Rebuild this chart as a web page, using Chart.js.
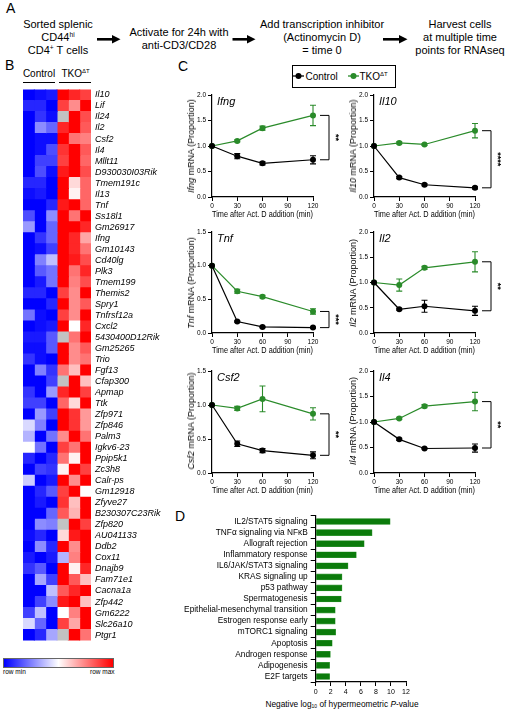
<!DOCTYPE html>
<html>
<head>
<meta charset="utf-8">
<script src="https://cdn.jsdelivr.net/npm/chart.js@4.4.1/dist/chart.umd.min.js"></script>
<style>
  body { margin: 0; background: #fff; }
  #page { position: relative; width: 508px; height: 712px; overflow: hidden; background: #fff;
          font-family: 'Liberation Sans', Arial, sans-serif; color: #000; }
  .t { position: absolute; white-space: nowrap; }
  .letter { position: absolute; font-size: 14px; line-height: 14px; }
  .step { position: absolute; font-size: 11px; line-height: 13px; text-align: center; white-space: nowrap; transform: translateX(-50%); }
  .ytitle { position: absolute; font-size: 9px; line-height: 10px; white-space: nowrap; transform: translate(-50%, -50%) rotate(-90deg); }
  canvas { position: absolute; }
  sup { font-size: 0.6em; vertical-align: 0.55em; line-height: 0; }
  sub { font-size: 0.6em; vertical-align: -0.3em; line-height: 0; }
</style>
</head>
<body>
<div id="page">
  <!-- panel A -->
  <div class="letter" style="left:6px;top:1px">A</div>
  <div class="step" style="left:58px;top:17.5px">Sorted splenic<br>CD44<sup>hi</sup><br>CD4<sup>+</sup> T cells</div>
  <div class="step" style="left:179px;top:25.5px">Activate for 24h with<br>anti-CD3/CD28</div>
  <div class="step" style="left:322px;top:17.5px">Add transcription inhibitor<br>(Actinomycin D)<br>= time 0</div>
  <div class="step" style="left:460px;top:17.5px">Harvest cells<br>at multiple time<br>points for RNAseq</div>
  <svg style="position:absolute;left:0;top:0" width="508" height="60">
    <g fill="#000" stroke="#000">
      <line x1="97" y1="39.3" x2="113" y2="39.3" stroke-width="2.6"/>
      <polygon points="112,35 120.5,39.3 112,43.6" stroke="none"/>
      <line x1="232.5" y1="39.3" x2="248" y2="39.3" stroke-width="2.6"/>
      <polygon points="247,35 255.5,39.3 247,43.6" stroke="none"/>
      <line x1="383" y1="39.3" x2="400" y2="39.3" stroke-width="2.6"/>
      <polygon points="399,35 407.5,39.3 399,43.6" stroke="none"/>
    </g>
  </svg>

  <!-- panel B -->
  <div class="letter" style="left:5px;top:58px">B</div>
  <div class="t" style="left:39px;top:73px;font-size:10px;transform:translate(-50%,-50%)">Control</div>
  <div class="t" style="left:75.5px;top:73px;font-size:10px;transform:translate(-50%,-50%)">TKO<sup>ΔT</sup></div>
  <div class="t" style="left:23px;top:82px;width:32px;height:1px;background:#000"></div>
  <div class="t" style="left:59px;top:82px;width:32px;height:1px;background:#000"></div>
  <div class="t" style="left:2.7px;top:658px;width:109px;height:8px;border:1px solid #666;background:linear-gradient(to right,#0000ff,#ffffff,#ff0000)"></div>
  <div class="t" style="left:3px;top:668px;font-size:6.5px">row min</div>
  <div class="t" style="left:90px;top:668px;font-size:6.5px">row max</div>

  <!-- panel C -->
  <div class="letter" style="left:178px;top:59px">C</div>
  <div class="t" style="left:292px;top:65px;width:102px;height:21px;border:1px solid #000"></div>
  <svg style="position:absolute;left:292px;top:71px" width="70" height="10">
    <line x1="1" y1="5" x2="12" y2="5" stroke="#000" stroke-width="1.3"/>
    <circle cx="6.5" cy="5" r="3" fill="#000"/>
    <line x1="56" y1="5" x2="67" y2="5" stroke="#2a8b2a" stroke-width="1.3"/>
    <circle cx="61.5" cy="5" r="3" fill="#2a8b2a"/>
  </svg>
  <div class="t" style="left:305.5px;top:76px;font-size:10px;transform:translateY(-50%)">Control</div>
  <div class="t" style="left:359.5px;top:76px;font-size:10px;transform:translateY(-50%)">TKO<sup>ΔT</sup></div>

  <!-- panel D -->
  <div class="letter" style="left:175px;top:508.5px">D</div>
  <div class="t" style="left:342px;top:704px;font-size:8.3px;transform:translate(-50%,-50%)">Negative log<sub>10</sub> of hypermeometric <i>P</i>-value</div>
</div>

<script>
// ---- Heatmap (row-scaled, -1 = row min, 1 = row max, null = missing) ----
var genes = ['Il10', 'Lif', 'Il24', 'Il2', 'Csf2', 'Il4', 'Mllt11', 'D930030I03Rik', 'Tmem191c', 'Il13',
  'Tnf', 'Ss18l1', 'Gm26917', 'Ifng', 'Gm10143', 'Cd40lg', 'Plk3', 'Tmem199', 'Themis2', 'Spry1',
  'Tnfrsf12a', 'Cxcl2', '5430400D12Rik', 'Gm25265', 'Trio', 'Fgf13', 'Cfap300', 'Apmap', 'Ttk', 'Zfp971',
  'Zfp846', 'Palm3', 'Igkv6-23', 'Ppip5k1', 'Zc3h8', 'Calr-ps', 'Gm12918', 'Zfyve27', 'B230307C23Rik', 'Zfp820',
  'AU041133', 'Ddb2', 'Cox11', 'Dnajb9', 'Fam71e1', 'Cacna1a', 'Zfp442', 'Gm6222', 'Slc26a10', 'Ptgr1'];

var ctrl1 = [-1, -0.85, -1, -1, -1, -1, -1, -1, -0.85, -0.95,
  -1, -0.7, -0.4, -1, -1, -1, -1, -1, -0.85, -1,
  -0.55, -1, -0.9, -0.95, -0.8, -1, -1, -0.8, -0.75, -1,
  -0.15, -0.3, 0, -0.85, -1, -0.2, -1, -1, -1, -1,
  -0.95, -1, -0.9, -0.8, -1, -1, -1, -0.75, -0.15, -1];
var ctrl2 = [-0.95, -0.85, -0.8, -0.45, -0.95, -0.95, -0.75, -0.7, -0.85, -0.9,
  -1, -1, -1, -0.8, -0.95, -0.5, -0.65, -0.9, -0.85, -1,
  -0.95, -0.95, -0.9, -0.95, -0.95, -0.5, -1, -1, -0.75, -0.4,
  -0.5, -1, -0.55, -1, -0.75, -1, -0.85, -0.9, -1, -0.45,
  -0.85, -0.45, -1, -0.65, -0.35, -1, -0.75, -0.25, -0.6, -0.85];
var ctrl3 = [-0.9, -1, -0.95, -0.6, -0.95, -0.7, -0.75, -0.95, -1, -1,
  -0.85, -0.45, -0.6, -0.6, -0.75, -0.25, -0.55, -0.55, -1, -0.85,
  -1, -0.9, -0.65, -0.65, -1, -0.8, -0.75, -0.4, -1, -0.75,
  -1, -0.55, -1, -0.85, -0.8, -0.9, -0.65, -1, -0.6, -0.5,
  -1, -0.85, -0.9, -1, -0.75, -0.25, -0.45, -1, -1, -0.35];
var tko1 = [1, 0.75, null, 0.85, 1, 0.8, 0.75, 0.9, 1, 1,
  0.9, 1, 1, 1, 1, 1, 1, 1, 0.75, 1,
  0.75, 1, null, 1, 1, 0.55, null, 0.85, 0.6, 1,
  1, 0.45, 0.75, 0.55, 0.05, 1, 0.75, 0.8, 0.65, null,
  0.15, 1, -0.3, 1, 1, 0.65, 0.9, 0, 0.75, null];
var tko2 = [0.85, 0.45, 1, 1, 0.55, 1, 1, 1, 0.15, 0.05,
  1, 0.55, 1, 0.85, 0.85, 0.9, 0.55, 0.5, 0.45, 0.45,
  0.45, 0, 0.55, 0.45, 0.45, 0.25, 1, 1, 0.15, 0.8,
  0.8, 1, 0.55, 0.05, 1, 0.45, 1, 0.25, 0.3, 1,
  0.9, 0.45, 0.5, 0.05, 0.65, 0.85, 1, 0.5, 0.35, 1];
var tko3 = [0.75, 1, 0.7, 0.65, 0.5, 0.65, 0.6, 0.7, 0.6, 0.6,
  0.6, 1, 0.85, 0.35, 0.55, 0.7, 0.85, 0.7, 1, 0.65,
  1, 0.85, 1, 0.65, 0.55, 1, 0.25, 0.75, 1, 0.4,
  0.4, 0.55, 1, 1, 0.75, 1, 0, 1, 1, 0.75,
  1, 1, 1, 0.85, 0.25, 1, 0.25, 1, 1, 0.55];

// ---- mRNA decay time courses (proportion of time 0) ----
var timePoints = [0, 30, 60, 120];

var ifngCtrl = [1.0, 0.80, 0.66, 0.73];
var ifngCtrlErr = [0, 0.05, 0.03, 0.08];
var ifngTko = [1.0, 1.10, 1.35, 1.60];
var ifngTkoErr = [0, 0.02, 0.04, 0.20];

var il10Ctrl = [1.0, 0.38, 0.24, 0.18];
var il10CtrlErr = [0, 0.02, 0.02, 0.02];
var il10Tko = [1.0, 1.06, 1.03, 1.30];
var il10TkoErr = [0, 0.02, 0.02, 0.14];

var tnfCtrl = [1.0, 0.17, 0.09, 0.08];
var tnfCtrlErr = [0, 0.01, 0.01, 0.01];
var tnfTko = [1.0, 0.62, 0.54, 0.32];
var tnfTkoErr = [0, 0.03, 0.02, 0.04];

var il2Ctrl = [1.0, 0.47, 0.53, 0.44];
var il2CtrlErr = [0, 0.02, 0.12, 0.09];
var il2Tko = [1.0, 0.95, 1.29, 1.41];
var il2TkoErr = [0, 0.12, 0.03, 0.20];

var csf2Ctrl = [1.0, 0.43, 0.33, 0.26];
var csf2CtrlErr = [0, 0.04, 0.03, 0.05];
var csf2Tko = [1.0, 0.95, 1.09, 0.87];
var csf2TkoErr = [0, 0.03, 0.19, 0.09];

var il4Ctrl = [1.0, 0.66, 0.48, 0.49];
var il4CtrlErr = [0, 0.02, 0.01, 0.08];
var il4Tko = [1.0, 1.07, 1.31, 1.40];
var il4TkoErr = [0, 0.02, 0.03, 0.18];

// ---- Hallmark enrichment ----
var pathways = ['IL2/STAT5 signaling', 'TNFα signaling via NFκB', 'Allograft rejection', 'Inflammatory response',
  'IL6/JAK/STAT3 signaling', 'KRAS signaling up', 'p53 pathway', 'Spermatogenesis',
  'Epithelial-mesenchymal transition', 'Estrogen response early', 'mTORC1 signaling', 'Apoptosis',
  'Androgen response', 'Adipogenesis', 'E2F targets'];
var negLogP = [9.9, 7.5, 6.45, 5.4, 4.3, 3.5, 3.5, 3.4, 2.6, 2.6, 2.65, 2.2, 1.95, 1.85, 1.85];

var green = '#2a8b2a';
var FONT = "'Liberation Sans', Arial, sans-serif";
Chart.defaults.font.family = FONT;
Chart.defaults.color = '#000';
Chart.defaults.animation = false;

var page = document.getElementById('page');

function addCanvas(left, top, w, h) {
  var c = document.createElement('canvas');
  c.width = w;
  c.height = h;
  c.style.left = left + 'px';
  c.style.top = top + 'px';
  c.style.width = w + 'px';
  c.style.height = h + 'px';
  page.appendChild(c);
  return c;
}

function heatColor(v) {
  if (v === null) return '#c2c2c2';
  var k;
  if (v < 0) {
    k = Math.round(255 * (1 + v));
    return 'rgb(' + k + ',' + k + ',255)';
  }
  k = Math.round(255 * (1 - v));
  return 'rgb(255,' + k + ',' + k + ')';
}

// heatmap as floating bars, one dataset per sample column
var heatCols = [ctrl1, ctrl2, ctrl3, tko1, tko2, tko3];
new Chart(addCanvas(0, 80, 170, 570), {
  type: 'bar',
  data: {
    labels: genes,
    datasets: heatCols.map(function (col, j) {
      return {
        data: col.map(function () { return [j, j + 1]; }),
        backgroundColor: col.map(heatColor),
        borderWidth: 0,
        grouped: false,
        barPercentage: 1,
        categoryPercentage: 1,
        inflateAmount: 0.5
      };
    })
  },
  options: {
    indexAxis: 'y',
    responsive: false,
    layout: { padding: { left: 23, top: 6, bottom: 6, right: 0 } },
    plugins: { legend: { display: false }, tooltip: { enabled: false } },
    scales: {
      x: { display: false, min: 0, max: 6 },
      y: {
        position: 'right',
        afterFit: function (s) { s.width = 79; },
        grid: { display: false, drawTicks: false },
        border: { display: false },
        ticks: { autoSkip: false, padding: 4, color: '#000', font: { size: 9, style: 'italic' } }
      }
    }
  }
});

function drawErrors(chart, dsIndex, errs, color) {
  var ctx = chart.ctx, ys = chart.scales.y;
  var meta = chart.getDatasetMeta(dsIndex);
  var vals = chart.data.datasets[dsIndex].data;
  ctx.strokeStyle = color;
  ctx.lineWidth = 1.1;
  meta.data.forEach(function (pt, i) {
    if (!errs[i]) return;
    var y1 = ys.getPixelForValue(vals[i].y + errs[i]);
    var y2 = ys.getPixelForValue(vals[i].y - errs[i]);
    ctx.beginPath();
    ctx.moveTo(pt.x, y1); ctx.lineTo(pt.x, y2);
    ctx.moveTo(pt.x - 3, y1); ctx.lineTo(pt.x + 3, y1);
    ctx.moveTo(pt.x - 3, y2); ctx.lineTo(pt.x + 3, y2);
    ctx.stroke();
  });
}

function annotPlugin(p) {
  return {
    id: 'annot',
    afterDatasetsDraw: function (chart) {
      var ctx = chart.ctx, xs = chart.scales.x, ys = chart.scales.y, area = chart.chartArea;
      ctx.save();
      drawErrors(chart, 0, p.ctrlErr, '#000');
      drawErrors(chart, 1, p.tkoErr, green);
      var last = timePoints.length - 1;
      var xr = xs.getPixelForValue(timePoints[last]);
      var yTop = ys.getPixelForValue(p.tko[last]);
      var yBot = ys.getPixelForValue(p.ctrl[last]);
      ctx.strokeStyle = '#000';
      ctx.lineWidth = 1;
      ctx.beginPath();
      ctx.moveTo(xr + 7, yTop); ctx.lineTo(xr + 16, yTop);
      ctx.lineTo(xr + 16, yBot); ctx.lineTo(xr + 7, yBot);
      ctx.stroke();
      ctx.translate(xr + 22, (yTop + yBot) / 2);
      ctx.rotate(Math.PI / 2);
      ctx.font = 'bold 9px ' + FONT;
      ctx.textAlign = 'center';
      ctx.textBaseline = 'middle';
      ctx.fillStyle = '#000';
      ctx.fillText(p.sig, 0, 0);
      ctx.restore();
      ctx.save();
      ctx.font = 'italic 11px ' + FONT;
      ctx.fillStyle = '#000';
      ctx.textBaseline = 'middle';
      ctx.fillText(p.gene, area.left + 5, area.top + 7);
      ctx.restore();
    }
  };
}

function series(vals, color) {
  return {
    data: timePoints.map(function (t, i) { return { x: t, y: vals[i] }; }),
    borderColor: color,
    backgroundColor: color,
    borderWidth: 1.2,
    pointRadius: 3,
    pointBorderWidth: 0,
    clip: false
  };
}

function makeLineChart(p) {
  var padL = 30, padR = 45, padT = 10, axisH = 23;
  var w = Math.round(p.right - p.left) + padL + padR;
  var h = Math.round(p.bottom - p.top) + padT + axisH;
  new Chart(addCanvas(p.left - padL, p.top - padT, w, h), {
    type: 'line',
    data: { datasets: [series(p.ctrl, '#000'), series(p.tko, green)] },
    options: {
      responsive: false,
      layout: { padding: { left: 0, right: padR, top: padT, bottom: 0 } },
      plugins: { legend: { display: false }, tooltip: { enabled: false } },
      scales: {
        x: {
          type: 'linear', min: 0, max: 120,
          afterFit: function (s) { s.height = axisH; },
          ticks: { stepSize: 30, padding: 1, maxRotation: 0, color: '#000', font: { size: 6.5 } },
          grid: { drawOnChartArea: false, tickLength: 4, color: '#000' },
          border: { color: '#000', width: 1.2 },
          title: { display: true, text: 'Time after Act. D addition (min)', padding: 0, color: '#000', font: { size: 8.5 } }
        },
        y: {
          min: 0, max: p.yMax,
          afterFit: function (s) { s.width = padL; },
          ticks: { stepSize: 0.5, padding: 2, color: '#000', font: { size: 6.5 },
            callback: function (v) { return v.toFixed(1); } },
          grid: { drawOnChartArea: false, tickLength: 4, color: '#000' },
          border: { color: '#000', width: 1.2 }
        }
      }
    },
    plugins: [annotPlugin(p)]
  });
  var d = document.createElement('div');
  d.className = 'ytitle';
  d.innerHTML = '<i>' + p.gene + '</i> mRNA (Proportion)';
  d.style.left = (p.left - 21) + 'px';
  d.style.top = ((p.top + p.bottom) / 2) + 'px';
  page.appendChild(d);
}

var panels = [
  { gene: 'Ifng', ctrl: ifngCtrl, ctrlErr: ifngCtrlErr, tko: ifngTko, tkoErr: ifngTkoErr, yMax: 2, sig: '**',
    left: 211.7, right: 312.5, top: 95, bottom: 197 },
  { gene: 'Il10', ctrl: il10Ctrl, ctrlErr: il10CtrlErr, tko: il10Tko, tkoErr: il10TkoErr, yMax: 2, sig: '****',
    left: 373.7, right: 475, top: 95, bottom: 197 },
  { gene: 'Tnf', ctrl: tnfCtrl, ctrlErr: tnfCtrlErr, tko: tnfTko, tkoErr: tnfTkoErr, yMax: 1.5, sig: '***',
    left: 211.7, right: 312.5, top: 232, bottom: 333 },
  { gene: 'Il2', ctrl: il2Ctrl, ctrlErr: il2CtrlErr, tko: il2Tko, tkoErr: il2TkoErr, yMax: 2, sig: '**',
    left: 373.7, right: 475, top: 232, bottom: 333 },
  { gene: 'Csf2', ctrl: csf2Ctrl, ctrlErr: csf2CtrlErr, tko: csf2Tko, tkoErr: csf2TkoErr, yMax: 1.5, sig: '**',
    left: 211.7, right: 312.5, top: 370.5, bottom: 472.3 },
  { gene: 'Il4', ctrl: il4Ctrl, ctrlErr: il4CtrlErr, tko: il4Tko, tkoErr: il4TkoErr, yMax: 2, sig: '**',
    left: 373.7, right: 475, top: 370.5, bottom: 472.3 }
];
panels.forEach(makeLineChart);

// enrichment bars
new Chart(addCanvas(140, 505, 368, 207), {
  type: 'bar',
  data: {
    labels: pathways,
    datasets: [{
      data: negLogP,
      backgroundColor: '#0b7b0b',
      borderColor: '#3a9a3a',
      borderWidth: 0.6,
      barThickness: 6
    }]
  },
  options: {
    indexAxis: 'y',
    responsive: false,
    layout: { padding: { left: 0, right: 102, top: 11, bottom: 0 } },
    plugins: { legend: { display: false }, tooltip: { enabled: false } },
    scales: {
      x: {
        min: 0, max: 12,
        afterFit: function (s) { s.height = 30; },
        ticks: { stepSize: 2, padding: 2, color: '#000', font: { size: 7 } },
        grid: { drawOnChartArea: false, tickLength: 4, color: '#000' },
        border: { color: '#000', width: 1.2 }
      },
      y: {
        afterFit: function (s) { s.width = 175.7; },
        ticks: { autoSkip: false, padding: 3, color: '#000', font: { size: 8.3 } },
        grid: { drawOnChartArea: false, tickLength: 5, color: '#000' },
        border: { color: '#000', width: 1.2 }
      }
    }
  }
});
</script>
</body>
</html>
